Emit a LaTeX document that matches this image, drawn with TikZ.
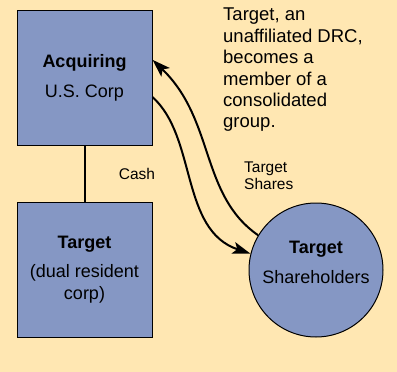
\documentclass[tikz,border=0pt]{standalone}
\usepackage{fontspec}
\setmainfont{Liberation Sans}
\usetikzlibrary{arrows.meta,calc}
\definecolor{bg}{RGB}{255,231,178}
\definecolor{boxblue}{RGB}{133,151,196}
\begin{document}
\begin{tikzpicture}[x=1pt,y=-1pt,
  entity/.style={draw=black,line width=1pt,fill=boxblue,minimum width=135pt,minimum height=135pt,inner sep=0pt,align=center},
  big/.style={font=\fontsize{18}{22}\selectfont},
  small/.style={font=\fontsize{15.5}{17}\selectfont},
  flow/.style={line width=2pt,-{Stealth[length=18pt,width=12pt,inset=4pt]}}]
\fill[bg] (0,0) rectangle (397,372);
\useasboundingbox (0,0) rectangle (397,372);
\node[entity,big] (acq) at (84.5,77.5) {\textbf{Acquiring}\\[8pt]U.S. Corp};
\node[entity,big] (tgt) at (84.5,269.5) {\textbf{Target}\\[7pt](dual resident\\corp)};
\node[circle,draw=black,line width=1pt,fill=boxblue,minimum size=134pt,inner sep=0pt] (sh) at (316,270) {};
\node[big,align=center] (shtext) at (316,262) {\textbf{Target}\\[8pt]Shareholders};
\node[font=\fontsize{18.5}{21.4}\selectfont,align=left,anchor=north west,inner sep=0pt] (note) at (223,8) {Target, an\\unaffiliated DRC,\\becomes a\\member of a\\consolidated\\group.};
\node[small] (cash) at (137,174) {Cash};
\node[small,align=left,anchor=west,inner sep=0pt] (shares) at (244,176) {Target\\Shares};
\draw[line width=2pt] (acq.south) -- (tgt.north);
\draw[flow] (sh.149) .. controls (200,195) and (215,120) .. ($(acq.north east)!0.37!(acq.south east)$);
\draw[flow] ($(acq.north east)!0.644!(acq.south east)$) .. controls (197,137) and (180,230) .. (sh.166);
\end{tikzpicture}
\end{document}
